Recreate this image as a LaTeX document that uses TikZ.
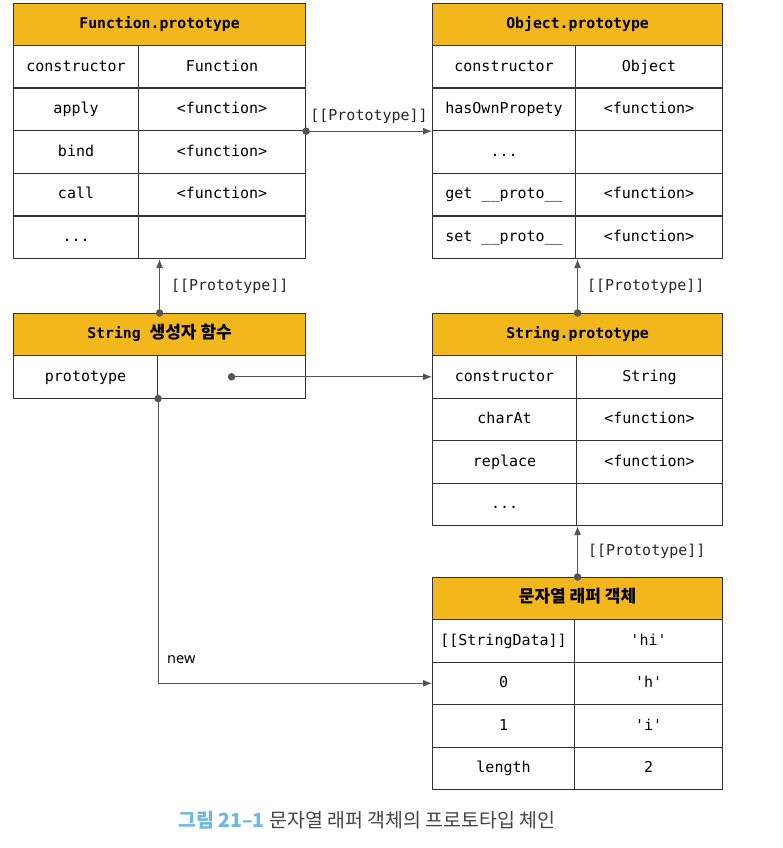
\documentclass[tikz,border=0pt]{standalone}
\usepackage{fontspec}
\setmainfont{DejaVu Sans Mono}
\newfontfamily\monof{DejaVu Sans Mono}
\newfontfamily\krf{Noto Sans CJK KR}
\newfontfamily\sansf{Noto Sans}
\usetikzlibrary{arrows.meta}
\definecolor{linec}{HTML}{333333}
\definecolor{hdrc}{HTML}{F2B71C}
\definecolor{connc}{HTML}{555555}
\definecolor{capblue}{HTML}{6CB8E3}
\definecolor{capgray}{HTML}{444444}
\newcommand{\krh}[1]{{\fontsize{17}{19}\selectfont\krf\bfseries #1}}
\tikzset{
  hdr/.style={draw=linec, fill=hdrc, line width=1.1pt, anchor=north west, inner sep=0pt, minimum height=42pt, text height=11.5pt, text depth=3pt, font=\fontsize{14.8}{17}\selectfont\monof\bfseries},
  cell/.style={draw=linec, line width=1.1pt, anchor=north west, inner sep=0pt, minimum height=42.5pt, text height=11.5pt, text depth=3pt, font=\fontsize{15}{17}\selectfont\monof},
  conn/.style={draw=connc, line width=1pt, -{Latex[length=9pt,width=7pt]}},
  lbl/.style={font=\fontsize{15}{17}\selectfont\monof, text=black!85, inner sep=0pt},
  dotc/.style={fill=connc, draw=none, circle, minimum size=7.5pt, inner sep=0pt},
}
\begin{document}
\begin{tikzpicture}[x=1pt,y=-1pt]
\useasboundingbox (0,0) rectangle (783,848);
% Function.prototype
\node[hdr, minimum width=292pt] (fp-h) at (13,3) {Function.prototype};
\node[cell, minimum width=125pt] (fp-r1-l) at (13,45) {constructor};
\node[cell, minimum width=167pt] (fp-r1-r) at (138,45) {Function};
\node[cell, minimum width=125pt] (fp-r2-l) at (13,87.6) {apply};
\node[cell, minimum width=167pt] (fp-r2-r) at (138,87.6) {<function>};
\node[cell, minimum width=125pt] (fp-r3-l) at (13,130.2) {bind};
\node[cell, minimum width=167pt] (fp-r3-r) at (138,130.2) {<function>};
\node[cell, minimum width=125pt] (fp-r4-l) at (13,172.8) {call};
\node[cell, minimum width=167pt] (fp-r4-r) at (138,172.8) {<function>};
\node[cell, minimum width=125pt] (fp-r5-l) at (13,215.4) {...};
\node[cell, minimum width=167pt] (fp-r5-r) at (138,215.4) {};
% Object.prototype
\node[hdr, minimum width=290pt] (op-h) at (432,3) {Object.prototype};
\node[cell, minimum width=143pt] (op-r1-l) at (432,45) {constructor};
\node[cell, minimum width=147pt] (op-r1-r) at (575,45) {Object};
\node[cell, minimum width=143pt] (op-r2-l) at (432,87.6) {hasOwnPropety};
\node[cell, minimum width=147pt] (op-r2-r) at (575,87.6) {<function>};
\node[cell, minimum width=143pt] (op-r3-l) at (432,130.2) {...};
\node[cell, minimum width=147pt] (op-r3-r) at (575,130.2) {};
\node[cell, minimum width=143pt] (op-r4-l) at (432,172.8) {get \_\_proto\_\_};
\node[cell, minimum width=147pt] (op-r4-r) at (575,172.8) {<function>};
\node[cell, minimum width=143pt] (op-r5-l) at (432,215.4) {set \_\_proto\_\_};
\node[cell, minimum width=147pt] (op-r5-r) at (575,215.4) {<function>};
% String constructor
\node[hdr, minimum width=292pt] (sc-h) at (13,313) {String \krh{생성자 함수}};
\node[cell, minimum width=144pt] (sc-r1-l) at (13,355) {prototype};
\node[cell, minimum width=148pt] (sc-r1-r) at (157,355) {};
% String.prototype
\node[hdr, minimum width=290pt] (sp-h) at (432,313) {String.prototype};
\node[cell, minimum width=144pt] (sp-r1-l) at (432,355) {constructor};
\node[cell, minimum width=146pt] (sp-r1-r) at (576,355) {String};
\node[cell, minimum width=144pt] (sp-r2-l) at (432,397.5) {charAt};
\node[cell, minimum width=146pt] (sp-r2-r) at (576,397.5) {<function>};
\node[cell, minimum width=144pt] (sp-r3-l) at (432,440) {replace};
\node[cell, minimum width=146pt] (sp-r3-r) at (576,440) {<function>};
\node[cell, minimum width=144pt] (sp-r4-l) at (432,482.5) {...};
\node[cell, minimum width=146pt] (sp-r4-r) at (576,482.5) {};
% wrapper object
\node[hdr, minimum width=290pt] (wr-h) at (432,577) {\krh{문자열 래퍼 객체}};
\node[cell, minimum width=142pt] (wr-r1-l) at (432,619) {[[StringData]]};
\node[cell, minimum width=148pt] (wr-r1-r) at (574,619) {'hi'};
\node[cell, minimum width=142pt] (wr-r2-l) at (432,661.5) {0};
\node[cell, minimum width=148pt] (wr-r2-r) at (574,661.5) {'h'};
\node[cell, minimum width=142pt] (wr-r3-l) at (432,704) {1};
\node[cell, minimum width=148pt] (wr-r3-r) at (574,704) {'i'};
\node[cell, minimum width=142pt] (wr-r4-l) at (432,746.5) {length};
\node[cell, minimum width=148pt] (wr-r4-r) at (574,746.5) {2};
% connectors
\coordinate (c1) at (fp-r2-r.south east);
\draw[conn] (c1) -- (op-r2-l.south west) node[lbl, midway, above=7pt] {[[Prototype]]};
\node[dotc] (d1) at (c1) {};
\coordinate (c2) at (sc-h.north);
\draw[conn] (c2) -- (c2 |- fp-r5-l.south) node[lbl, midway, right=11pt] {[[Prototype]]};
\node[dotc] (d2) at (c2) {};
\coordinate (c3) at (sc-r1-r.center);
\draw[conn] (c3) -- (sp-r1-l.west);
\node[dotc] (d3) at (c3) {};
\coordinate (c4) at (sc-r1-l.south east);
\draw[conn] (c4) |- (wr-r2-l.west);
\node[dotc] (d4) at (c4) {};
\node[font=\fontsize{14.5}{17}\selectfont\sansf, anchor=west, inner sep=0pt] (newl) at (167,660) {new};
\coordinate (c5) at (sp-h.north);
\draw[conn] (c5) -- (c5 |- op-r5-l.south) node[lbl, midway, right=9pt] {[[Prototype]]};
\node[dotc] (d5) at (c5) {};
\coordinate (c6) at (wr-h.north);
\draw[conn] (c6) -- (c6 |- sp-r4-l.south) node[lbl, midway, right=10pt] {[[Prototype]]};
\node[dotc] (d6) at (c6) {};
% caption
\node[font=\fontsize{19.5}{22}\selectfont\krf, inner sep=0pt] (cap) at (367,820) {{\bfseries\color{capblue}그림 21–1} {\color{capgray}문자열 래퍼 객체의 프로토타입 체인}};
\end{tikzpicture}
\end{document}
